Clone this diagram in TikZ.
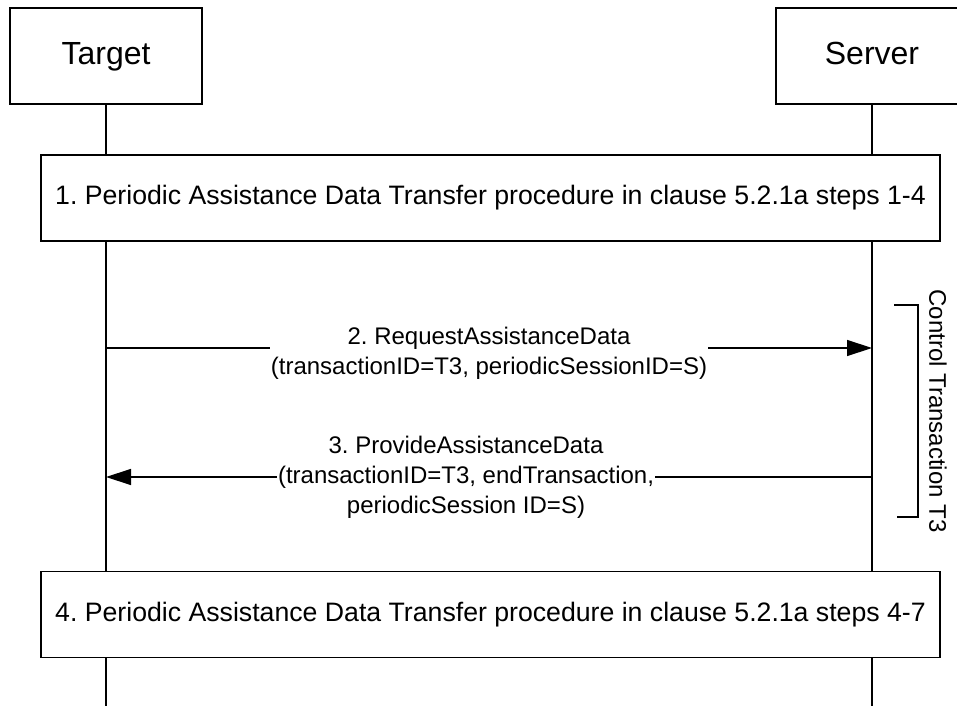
\documentclass[tikz,border=0pt]{standalone}
\usepackage{fontspec}
\setmainfont{Liberation Sans}
\usetikzlibrary{arrows.meta}
\frenchspacing
\begin{document}
\begin{tikzpicture}[x=0.75pt,y=-0.75pt,
  actor/.style={draw,line width=1.1pt,minimum width=144pt,minimum height=72pt,inner sep=0pt,text height=17.5pt,text depth=4.5pt,font=\fontsize{24}{28}\selectfont},
  proc/.style={draw,line width=1.1pt,minimum width=674.25pt,minimum height=64.5pt,inner sep=0pt,font=\fontsize{20}{24}\selectfont},
  life/.style={line width=0.8pt},
  msg/.style={line width=1pt,-{Triangle[length=18.75pt,width=12pt]}},
  lbl/.style={fill=white,inner xsep=1pt,inner ysep=0pt,align=center,font=\fontsize{18}{22.5}\selectfont},
  brk/.style={line width=1pt}
]
\clip (0,0) rectangle (957,706);
\fill[white] (0,0) rectangle (957,706);
% actors
\node[actor] (target) at (106,56) {Target};
\node[actor] (server) at (872,56) {Server};
% procedure boxes
\node[proc] (p1) at (490.5,198) {1. Periodic Assistance Data Transfer procedure in clause 5.2.1a steps 1-4};
\node[proc] (p4) at (490.5,614.5) {4. Periodic Assistance Data Transfer procedure in clause 5.2.1a steps 4-7};
% lifeline ends
\coordinate (bot) at (0,706);
% lifelines
\draw[life] (target.south) -- (target.south |- p1.north);
\draw[life] (server.south) -- (server.south |- p1.north);
\draw[life] (target.south |- p1.south) -- (target.south |- p4.north);
\draw[life] (server.south |- p1.south) -- (server.south |- p4.north);
\draw[life] (target.south |- p4.south) -- (target.south |- bot);
\draw[life] (server.south |- p4.south) -- (server.south |- bot);
% messages
\coordinate (m2) at (0,348);
\coordinate (m3) at (0,477);
\draw[msg] (target.south |- m2) -- (server.south |- m2);
\draw[msg] (server.south |- m3) -- (target.south |- m3);
\node[lbl] (l2) at (489,353) {2. RequestAssistanceData\\(transactionID=T3, periodicSessionID=S)};
\node[lbl] (l3) at (466,477) {3. ProvideAssistanceData\\(transactionID=T3, endTransaction,\\periodicSession ID=S)};
% control transaction bracket
\coordinate (bt) at (918,305);
\coordinate (bb) at (918,517);
\draw[brk] ([xshift=-18pt]bt) -- (bt) -- (bb) -- ([xshift=-15.75pt]bb);
\node[rotate=-90,inner sep=0pt,font=\fontsize{18}{22}\selectfont] (ct) at (938,411) {Control Transaction T3};
\end{tikzpicture}
\end{document}
